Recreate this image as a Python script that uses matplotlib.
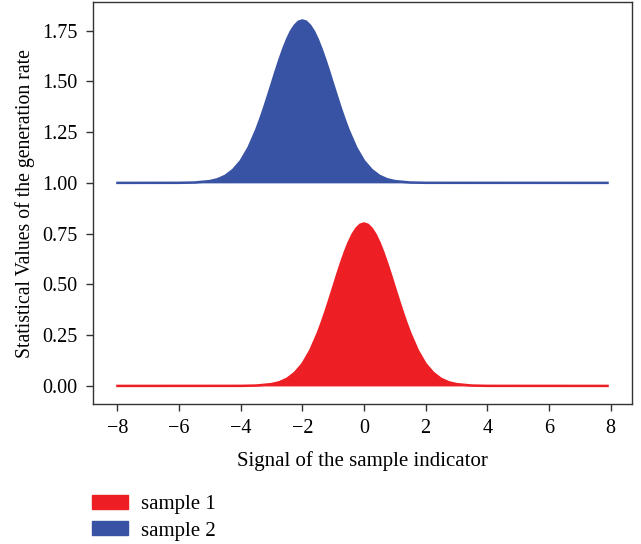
import matplotlib.pyplot as plt
import numpy as np

plt.rcParams['font.family'] = ['Liberation Serif', 'DejaVu Serif']

# values
sample1_x = [-8.0, -4.0, -3.5, -3.0, -2.75, -2.5, -2.25, -2.0, -1.75, -1.5, -1.375, -1.25,
             -1.125, -1.0, -0.875, -0.75, -0.625, -0.5, -0.375, -0.25, -0.125, 0.0,
             0.125, 0.25, 0.375, 0.5, 0.625, 0.75, 0.875, 1.0, 1.125, 1.25, 1.375, 1.5,
             1.75, 2.0, 2.25, 2.5, 2.75, 3.0, 3.5, 4.0, 7.9]
sample1_y = [0.0, 0.0003, 0.0018, 0.0089, 0.018, 0.035, 0.064, 0.108, 0.173, 0.260, 0.311, 0.366,
             0.425, 0.485, 0.546, 0.604, 0.658, 0.706, 0.746, 0.775, 0.794, 0.800,
             0.794, 0.775, 0.746, 0.706, 0.658, 0.604, 0.546, 0.485, 0.425, 0.366, 0.311, 0.260,
             0.173, 0.108, 0.064, 0.035, 0.018, 0.0089, 0.0018, 0.0003, 0.0]

sample2_x = [-8.0, -6.0, -5.5, -5.0, -4.75, -4.5, -4.25, -4.0, -3.75, -3.5, -3.375, -3.25,
             -3.125, -3.0, -2.875, -2.75, -2.625, -2.5, -2.375, -2.25, -2.125, -2.0,
             -1.875, -1.75, -1.625, -1.5, -1.375, -1.25, -1.125, -1.0, -0.875, -0.75, -0.625, -0.5,
             -0.25, 0.0, 0.25, 0.5, 0.75, 1.0, 1.5, 2.0, 7.9]
sample2_y = [1.0, 1.0003, 1.0018, 1.0089, 1.018, 1.035, 1.064, 1.108, 1.173, 1.260, 1.311, 1.366,
             1.425, 1.485, 1.546, 1.604, 1.658, 1.706, 1.746, 1.775, 1.794, 1.800,
             1.794, 1.775, 1.746, 1.706, 1.658, 1.604, 1.546, 1.485, 1.425, 1.366, 1.311, 1.260,
             1.173, 1.108, 1.064, 1.035, 1.018, 1.0089, 1.0018, 1.0003, 1.0]
sample2_base = 1.0

labels = ['sample 1', 'sample 2']
colors = ['#ED1F25', '#3953A4']

fig = plt.figure(figsize=(6.41, 5.44), dpi=100)
ax = fig.add_axes([0.145, 0.257, 0.841, 0.739])

ax.fill_between(sample1_x, 0, sample1_y, color=colors[0], lw=0)
ax.plot(sample1_x, sample1_y, color=colors[0], lw=1.8, solid_joinstyle='round')
ax.fill_between(sample2_x, sample2_base, sample2_y, color=colors[1], lw=0)
ax.plot(sample2_x, sample2_y, color=colors[1], lw=1.8, solid_joinstyle='round')

ax.set_xticks(np.arange(-8, 9, 2))
ax.set_xticklabels(['\u2212' + str(-v) if v < 0 else str(v) for v in range(-8, 9, 2)])
ax.set_yticks([0, 0.25, 0.5, 0.75, 1.0, 1.25, 1.5, 1.75])
ax.set_yticklabels(['%.2f' % v for v in [0, 0.25, 0.5, 0.75, 1.0, 1.25, 1.5, 1.75]])
ax.tick_params(labelsize=14.5, length=5, width=1, color='#333333', pad=6)
for s in ax.spines.values():
    s.set_color('#333333')
    s.set_linewidth(1)

ax.set_xlabel('Signal of the sample indicator', fontsize=15, labelpad=9)
ax.set_ylabel('Statistical Values of the generation rate', fontsize=14.2, labelpad=5)

handles = [plt.Rectangle((0, 0), 1, 1, color=c) for c in colors]
fig.legend(handles, labels, loc='upper left', bbox_to_anchor=(0.1435, 0.090), frameon=False,
           borderpad=0, borderaxespad=0, fontsize=15, handlelength=1.73, handleheight=0.67,
           labelspacing=0.33, handletextpad=0.63)

plt.savefig('out.png', dpi=100)
